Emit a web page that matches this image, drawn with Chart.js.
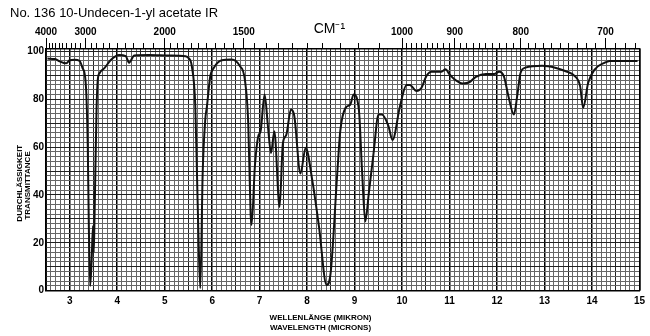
<!DOCTYPE html>
<html>
<head>
<meta charset="utf-8">
<script src="https://cdn.jsdelivr.net/npm/chart.js@4.4.1/dist/chart.umd.min.js"></script>
<style>
  html, body { margin: 0; padding: 0; background: #fff; }
</style>
</head>
<body>
<canvas id="irChart" width="650" height="336"></canvas>
<script>
// spectrum: wavelength (microns) vs % transmittance
const wavelength = [
  2.53, 2.69, 2.79, 2.92, 3.00, 3.10, 3.21, 3.27, 3.32, 3.35, 3.38, 3.40, 3.43, 3.46, 3.49, 3.505, 3.52, 3.54, 3.565, 3.59,
  3.63, 3.73, 3.87, 4.04, 4.18, 4.25, 4.36, 4.67, 5.09, 5.44, 5.50, 5.57, 5.645, 5.68, 5.715, 5.75, 5.80, 5.855, 5.89, 5.96,
  6.03, 6.20, 6.41, 6.58, 6.69, 6.76, 6.81, 6.83, 6.90, 6.97, 7.02, 7.105, 7.175, 7.24, 7.31, 7.42, 7.49, 7.56, 7.66, 7.73,
  7.86, 7.97, 8.11, 8.25, 8.41, 8.495, 8.635, 8.70, 8.81, 8.91, 8.98, 9.09, 9.16, 9.225, 9.30, 9.40, 9.505, 9.575, 9.71, 9.80,
  9.955, 10.095, 10.165, 10.305, 10.41, 10.51, 10.62, 10.83, 10.915, 11.0, 11.105, 11.28, 11.415, 11.555, 11.765, 11.94, 12.045, 12.145, 12.24, 12.355,
  12.425, 12.495, 12.60, 12.95, 13.225, 13.435, 13.645, 13.75, 13.815, 13.92, 14.06, 14.27, 14.375, 14.96
];
const transmittance = [
  97, 96.8, 95.8, 95, 96.3, 96.5, 96, 93, 90, 82, 60, 30, 2, 12, 27, 16, 28, 50, 76, 88,
  91, 93, 96.5, 98.5, 98, 95.3, 98.3, 98.5, 98.3, 98, 97.3, 94, 77, 49, 20, 1, 49, 71.5, 77, 89.6,
  93, 96.3, 96.6, 94, 88, 70, 32, 27.5, 52, 64.5, 66.6, 82, 68.7, 57.5, 66.6, 35, 61.7, 65, 75.7, 73,
  49, 59.7, 46, 26.8, 2.4, 7.3, 49, 67, 76.4, 77.8, 82, 75.7, 49, 29, 40.8, 57.5, 73.6, 73.6, 69, 63,
  77, 86, 86, 83.4, 84.8, 89.6, 91.5, 91.5, 92.5, 90.4, 88.3, 86.6, 87.1, 89.4, 90.6, 90.6, 91.5, 89.6, 81.3, 73.6,
  81.3, 91, 93.2, 94, 93.2, 91.8, 89.6, 85.5, 76.4, 86.9, 92.5, 95.3, 96, 96
];

const wavelengthTicks = [3, 4, 5, 6, 7, 8, 9, 10, 11, 12, 13, 14, 15];
const transmittanceTicks = [0, 20, 40, 60, 80, 100];
const wavenumberLabels = [4000, 3000, 2000, 1500, 1000, 900, 800, 700];
const cmLabel = 'CM\u207B\u00B9';

const narrow = "'Liberation Sans Narrow', 'Liberation Sans', Arial, sans-serif";
const near = (a, b) => Math.abs(a - b) < 1e-6;
// trailing blanks push the axis titles off-centre, like on the printed chart
const pad = (s, n) => s + ' '.repeat(n);

// small tick marks of the wavenumber scale
const wnMinor = [];
for (let wn = 4000; wn > 2000; wn -= 100) wnMinor.push(wn);
for (let wn = 2000; wn > 1000; wn -= 50) wnMinor.push(wn);
for (let wn = 1000; wn >= 670; wn -= 10) wnMinor.push(wn);

// labelled wavenumber ticks, plus the unit written in the same row
const topTicks = wavenumberLabels.map(wn => ({ value: 10000 / wn, text: String(wn) }));
topTicks.splice(4, 0, { value: 8.47, text: cmLabel });
const cmIndex = 4;

const ctx = document.getElementById('irChart');
new Chart(ctx, {
  type: 'line',
  data: {
    datasets: [{
      data: wavelength.map((w, i) => ({ x: w, y: transmittance[i] })),
      borderColor: '#111',
      borderWidth: 2,
      pointRadius: 0,
      fill: false,
      cubicInterpolationMode: 'monotone'
    }]
  },
  options: {
    responsive: false,
    animation: false,
    devicePixelRatio: 1,
    layout: { padding: { left: 10, right: 5, top: 0, bottom: 0 } },
    plugins: {
      legend: { display: false },
      tooltip: { enabled: false },
      title: {
        display: true,
        text: 'No. 136 10-Undecen-1-yl acetate IR',
        align: 'start',
        color: '#000',
        font: { family: "'Liberation Sans', Arial, sans-serif", size: 13, weight: 'normal', lineHeight: 1.2 },
        padding: { top: 6, bottom: 0 }
      }
    },
    scales: {
      x: {
        type: 'linear',
        position: 'bottom',
        min: 2.5,
        max: 15,
        afterBuildTicks: (scale) => {
          const t = [];
          for (let i = 25; i <= 150; i++) t.push({ value: i / 10 });
          scale.ticks = t;
        },
        afterFit: (scale) => { scale.height = 45.3; },
        grid: {
          drawTicks: false,
          color: (c) => {
            const v = c.tick.value;
            if (near(v, Math.round(v))) return '#000';
            if (near(v * 2, Math.round(v * 2))) return '#222';
            return '#666';
          },
          lineWidth: (c) => near(c.tick.value, Math.round(c.tick.value)) ? 1.5 : 1
        },
        border: { color: '#000', width: 1.5 },
        ticks: {
          autoSkip: false,
          maxRotation: 0,
          minRotation: 0,
          padding: 5,
          color: '#000',
          font: { family: narrow, size: 10, weight: 'bold' },
          callback: (v) => {
            const t = wavelengthTicks.find(w => near(w, v));
            return t === undefined ? '' : String(t);
          }
        },
        title: {
          display: true,
          text: [pad('WELLENL\u00C4NGE (MIKRON)', 20), pad('WAVELENGTH (MICRONS)', 20)],
          color: '#000',
          font: { family: narrow, size: 8, weight: 'bold', lineHeight: 1.15 },
          padding: { top: 0, bottom: 4 }
        }
      },
      xTicks: {
        type: 'linear',
        position: 'top',
        weight: 0,
        min: 2.5,
        max: 15,
        afterBuildTicks: (scale) => {
          scale.ticks = wnMinor.map(wn => ({ value: 10000 / wn }));
        },
        afterFit: (scale) => { scale.height = 6; },
        grid: { drawOnChartArea: false, drawTicks: true, tickLength: 6, tickColor: '#000', tickWidth: 1 },
        border: { display: true, color: '#000', width: 1.5 },
        ticks: { display: false }
      },
      xWavenumber: {
        type: 'linear',
        position: 'top',
        weight: 1,
        min: 2.5,
        max: 15,
        afterBuildTicks: (scale) => {
          scale.ticks = topTicks.map(t => ({ value: t.value }));
        },
        afterFit: (scale) => { scale.height = 21.4; },
        grid: {
          drawOnChartArea: false,
          drawTicks: true,
          tickLength: 5,
          tickWidth: 1,
          tickColor: (c) => c.index === cmIndex ? 'rgba(0,0,0,0)' : '#000'
        },
        border: { display: false },
        ticks: {
          autoSkip: false,
          maxRotation: 0,
          minRotation: 0,
          padding: 0,
          color: '#000',
          font: (c) => c.index === cmIndex
            ? { family: "'Liberation Sans', Arial, sans-serif", size: 14, weight: 'normal' }
            : { family: narrow, size: 10, weight: 'bold' },
          callback: (v, i) => topTicks[i] ? topTicks[i].text : ''
        }
      },
      y: {
        type: 'linear',
        position: 'left',
        min: 0,
        max: 101,
        afterBuildTicks: (scale) => {
          const t = [];
          for (let v = 0; v <= 100; v += 2) t.push({ value: v });
          scale.ticks = t;
        },
        afterFit: (scale) => { scale.width = 36; },
        grid: {
          drawTicks: false,
          color: (c) => c.tick.value % 10 === 0 ? '#222' : '#666',
          lineWidth: 1
        },
        border: { color: '#000', width: 1.5 },
        ticks: {
          autoSkip: false,
          padding: 2,
          color: '#000',
          font: { family: narrow, size: 10, weight: 'bold' },
          callback: (v) => transmittanceTicks.includes(v) ? String(v) : ''
        },
        title: {
          display: true,
          text: [pad('DURCHL\u00C4SSIGKEIT', 12), pad('TRANSMITTANCE', 14)],
          color: '#000',
          font: { family: narrow, size: 8, weight: 'bold', lineHeight: 1.0 },
          padding: { top: 6, bottom: 0 }
        }
      },
      yRight: {
        type: 'linear',
        position: 'right',
        min: 0,
        max: 101,
        afterFit: (scale) => { scale.width = 0; },
        grid: { drawOnChartArea: false, drawTicks: false },
        border: { display: true, color: '#000', width: 1.5 },
        ticks: { display: false }
      }
    }
  }
});
</script>
</body>
</html>
